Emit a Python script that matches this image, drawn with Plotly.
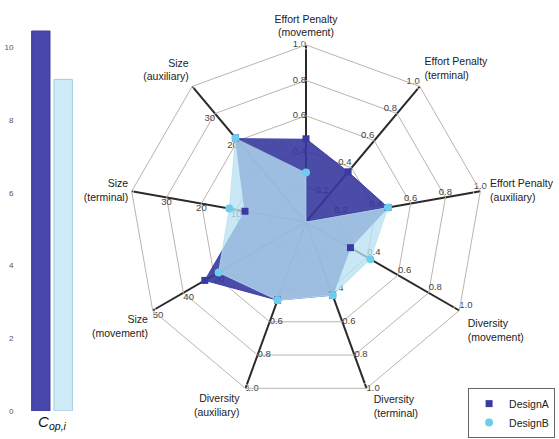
import plotly.graph_objects as go

# ---------------- data ----------------
axes = ["Effort Penalty<br>(movement)", "Effort Penalty<br>(terminal)", "Effort Penalty<br>(auxiliary)",
        "Diversity<br>(movement)", "Diversity<br>(terminal)", "Diversity<br>(auxiliary)",
        "Size<br>(movement)", "Size<br>(terminal)", "Size<br>(auxiliary)"]
axis_min = [0, 0, 0, 0, 0, 0, 0, -10, -10]
axis_max = [1, 1, 1, 1, 1, 1, 50, 40, 40]

design_a = [0.47, 0.37, 0.47, 0.29, 0.44, 0.47, 33, 7.5, 21]
design_b = [0.28, 0.0, 0.47, 0.42, 0.44, 0.47, 28.5, 12, 21]

# tick labels shown along each axis
axis_ticks = [
    ["0.0", "0.2", "0.4", "0.6", "0.8", "1.0"],
    ["0.0", "0.2", "0.4", "0.6", "0.8", "1.0"],
    ["0.2", "0.4", "0.6", "0.8", "1.0"],
    ["0.2", "0.4", "0.6", "0.8", "1.0"],
    ["0.2", "0.4", "0.6", "0.8", "1.0"],
    ["0.2", "0.4", "0.6", "0.8", "1.0"],
    ["10", "20", "30", "40", "50"],
    ["0", "10", "20", "30"],
    ["0", "10", "20", "30"],
]
tick_side = ["middle left", "top left", "top center", "top right", "middle right",
             "middle right", "bottom right", "bottom center", "bottom left"]
title_side = ["top center", "top right", "middle right", "bottom right", "bottom right",
              "bottom left", "bottom left", "middle left", "top left"]
title_gap = [8, 6, 14, 12, 10, 8, 6, 4, 4]

bar_category = ["<i>C</i><sub><i>op,i</i></sub>"]
bar_a = [10.45]
bar_b = [9.12]

# ---------------- helpers ----------------
def norm(vals):
    return [(v - lo) / (hi - lo) for v, lo, hi in zip(vals, axis_min, axis_max)]

col_a = "rgb(58,58,160)"
col_b_marker = "rgb(110,205,236)"
FONT = "Liberation Sans, Arial"

fig = go.Figure()

# tick label text on each spoke
t_r, t_theta, t_text, t_pos = [], [], [], []
for i, ticks in enumerate(axis_ticks):
    for t in ticks:
        t_r.append((float(t) - axis_min[i]) / (axis_max[i] - axis_min[i]))
        t_theta.append(axes[i])
        t_text.append(t)
        t_pos.append(tick_side[i])
fig.add_trace(go.Scatterpolar(r=t_r, theta=t_theta, text=t_text, mode="text",
                              textposition=t_pos, showlegend=False, hoverinfo="skip",
                              textfont=dict(family=FONT, size=9.5, color="#444")))

# axis titles at the spoke ends (invisible markers only push the text away)
fig.add_trace(go.Scatterpolar(r=[1.0] * len(axes), theta=axes, text=axes, mode="markers+text",
                              textposition=title_side, showlegend=False, hoverinfo="skip",
                              marker=dict(size=title_gap, color="rgba(0,0,0,0)"),
                              textfont=dict(family=FONT, size=10.5, color="#222"),
                              cliponaxis=False))

ra = norm(design_a)
rb = norm(design_b)

fig.add_trace(go.Scatterpolar(r=ra, theta=axes, fill="toself", mode="lines",
                              line=dict(color="rgba(55,55,158,0.9)", width=1),
                              fillcolor="rgba(55,55,158,0.9)", showlegend=False, hoverinfo="skip"))
fig.add_trace(go.Scatterpolar(r=rb, theta=axes, fill="toself", mode="lines",
                              line=dict(color="rgba(183,225,242,0.77)", width=1),
                              fillcolor="rgba(183,225,242,0.77)", showlegend=False, hoverinfo="skip"))
fig.add_trace(go.Scatterpolar(r=ra, theta=axes, mode="markers", name="DesignA",
                              marker=dict(symbol="square", size=7, color=col_a)))
fig.add_trace(go.Scatterpolar(r=rb, theta=axes, mode="markers", name="DesignB",
                              marker=dict(symbol="circle", size=8, color=col_b_marker)))

# bars
fig.add_trace(go.Bar(x=bar_category, y=bar_a, name="DesignA", showlegend=False,
                     marker=dict(color="rgb(72,72,172)", line=dict(color="rgb(60,60,150)", width=1)),
                     xaxis="x", yaxis="y"))
fig.add_trace(go.Bar(x=bar_category, y=bar_b, name="DesignB", showlegend=False,
                     marker=dict(color="rgb(206,236,248)", line=dict(color="rgb(160,205,228)", width=1)),
                     xaxis="x", yaxis="y"))

W, H = 559, 439
cx, cy, R = 306, 222, 177

fig.update_layout(
    width=W, height=H,
    margin=dict(l=0, r=0, t=0, b=0, autoexpand=False),
    paper_bgcolor="white", plot_bgcolor="white",
    font=dict(family=FONT, color="#222"),
    barmode="group", bargap=0.14, bargroupgap=0.18,
    xaxis=dict(domain=[26 / W, 78 / W], showline=False, showgrid=False, zeroline=False,
               automargin=False, tickfont=dict(size=15, color="#111"), ticks=""),
    yaxis=dict(domain=[28 / H, 428 / H], range=[0, 11], tickvals=[0, 2, 4, 6, 8, 10],
               showgrid=False, zeroline=False, showline=False, automargin=False,
               ticks="outside", ticklen=10, tickcolor="rgba(0,0,0,0)",
               tickfont=dict(size=8, color="#555")),
    polar=dict(
        domain=dict(x=[(cx - R) / W, (cx + R) / W], y=[(H - cy - R) / H, (H - cy + R) / H]),
        gridshape="linear",
        bgcolor="white",
        radialaxis=dict(range=[0, 1], tickvals=[0.2, 0.4, 0.6, 0.8, 1.0], showticklabels=False,
                        ticks="", showline=False, gridcolor="#bdb3ab", gridwidth=1),
        angularaxis=dict(direction="clockwise", rotation=90, ticks="", showticklabels=False,
                         gridcolor="#2a2a2a", gridwidth=1.6,
                         linecolor="#bdb3ab", linewidth=1),
    ),
    legend=dict(x=0.993, y=0.002, xanchor="right", yanchor="bottom",
                bordercolor="#666", borderwidth=1, bgcolor="white",
                font=dict(size=10.5, color="#222"), itemwidth=30,
                tracegroupgap=0),
)

fig.write_html("out.html")
